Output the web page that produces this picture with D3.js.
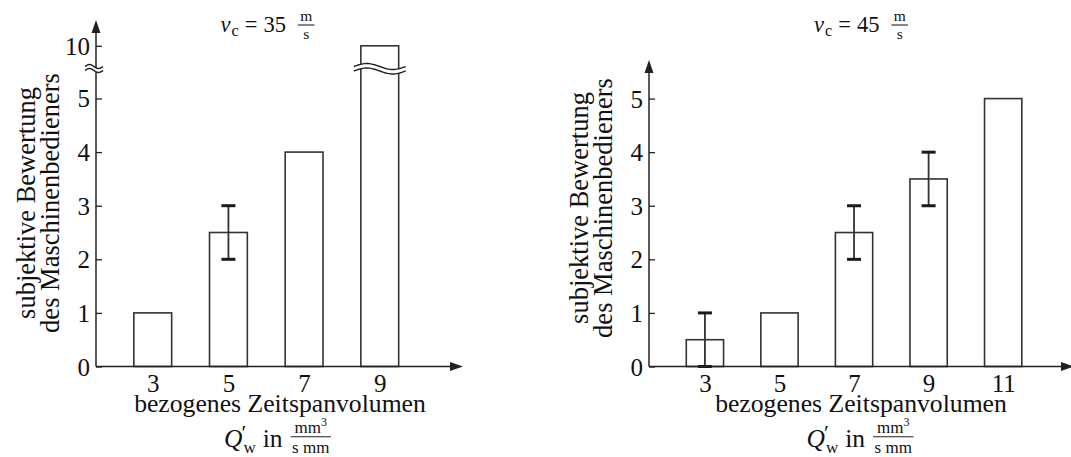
<!DOCTYPE html>
<html>
<head>
<meta charset="utf-8">
<script src="https://cdn.jsdelivr.net/npm/d3@7"></script>
<style>
  body { margin: 0; background: #fff; }
  svg { display: block; }
  svg text { font-family: "Liberation Serif", "DejaVu Serif", serif !important; fill: #111; }
</style>
</head>
<body>
<svg id="chart" width="1071" height="457" font-family="Liberation Serif, DejaVu Serif, serif"></svg>
<script>
// ---- data ----
const leftCategories = [3, 5, 7, 9];
const leftValues     = [1, 2.5, 4, 10];
const leftErrLow     = [null, 2, null, null];
const leftErrHigh    = [null, 3, null, null];
const leftTicks      = [0, 1, 2, 3, 4, 5, 10];

const rightCategories = [3, 5, 7, 9, 11];
const rightValues     = [0.5, 1, 2.5, 3.5, 5];
const rightErrLow     = [0, null, 2, 3, null];
const rightErrHigh    = [1, null, 3, 4, null];
const rightTicks      = [0, 1, 2, 3, 4, 5];

const speeds      = ["35", "45"];
const yTitleLines = ["subjektive Bewertung", "des Maschinenbedieners"];
const xTitle      = "bezogenes Zeitspanvolumen";

// ---- drawing ----
const SERIF = "Liberation Serif, DejaVu Serif, serif";
const svg = d3.select("#chart");
const INK = "#222";
const BAR_INK = "#333";

function txt(parent) {
  return parent.append("text").attr("font-family", SERIF).attr("fill", "#111");
}

// two stacked wavy strokes with a white gap between them (axis break symbol)
function breakMark(g, x1, x2, yc, amp, gap) {
  const n = 40;
  const pts = d3.range(n + 1).map(i => {
    const t = i / n;
    return [x1 + t * (x2 - x1), yc - amp * Math.sin(2 * Math.PI * t)];
  });
  const upper = pts;
  const lower = pts.map(p => [p[0], p[1] + gap]);
  const area = upper.concat(lower.slice().reverse());
  g.append("path").attr("d", d3.line()(area) + "Z").attr("fill", "#fff").attr("stroke", "none");
  [upper, lower].forEach(p => {
    g.append("path").attr("d", d3.line().curve(d3.curveBasis)(p))
      .attr("fill", "none").attr("stroke", INK).attr("stroke-width", 1.4);
  });
}

function drawSpeedTitle(cx, base, val) {
  const t = svg.append("g");
  const tt = txt(t).attr("y", base).attr("font-size", 22.5);
  tt.append("tspan").attr("font-style", "italic").text("v");
  tt.append("tspan").attr("font-size", 16).attr("dy", 4).attr("dx", 1).text("c");
  tt.append("tspan").attr("dy", -4).attr("dx", 6).text("=");
  tt.append("tspan").attr("dx", 6).text(val);
  const w = tt.node().getComputedTextLength() + 13;
  const fx = w + 12, fw = 16.5;
  txt(t).attr("x", fx + fw / 2).attr("y", base - 10.5).attr("font-size", 15.5)
    .attr("text-anchor", "middle").text("m");
  t.append("line").attr("x1", fx).attr("x2", fx + fw).attr("y1", base - 6.5).attr("y2", base - 6.5)
    .attr("stroke", INK).attr("stroke-width", 1.1);
  txt(t).attr("x", fx + fw / 2).attr("y", base + 7.5).attr("font-size", 15.5)
    .attr("text-anchor", "middle").text("s");
  t.attr("transform", `translate(${cx - (fx + fw) / 2},0)`);
}

function drawUnitLine(cx, base) {
  const t = svg.append("g");
  const q = txt(t).attr("y", base).attr("font-size", 25.5).attr("font-style", "italic").text("Q");
  const qw = q.node().getComputedTextLength();
  txt(t).attr("x", qw - 1).attr("y", base - 7).attr("font-size", 22).text("′");
  const sub = txt(t).attr("x", qw + 1).attr("y", base + 6).attr("font-size", 17).text("w");
  const sw = sub.node().getComputedTextLength();
  const inT = txt(t).attr("x", qw + sw + 8).attr("y", base).attr("font-size", 25.5).text("in");
  const iw = inT.node().getComputedTextLength();
  const fx = qw + sw + 8 + iw + 8;
  const num = txt(t).attr("y", base - 14).attr("font-size", 17);
  num.append("tspan").text("mm");
  num.append("tspan").attr("font-size", 12).attr("dy", -7).text("3");
  const den = txt(t).attr("y", base + 6.6).attr("font-size", 17).text("s mm");
  const nw = num.node().getComputedTextLength();
  const dw = den.node().getComputedTextLength();
  const fw = Math.max(nw, dw) + 3;
  num.attr("x", fx + (fw - nw) / 2);
  den.attr("x", fx + (fw - dw) / 2);
  t.append("line").attr("x1", fx).attr("x2", fx + fw).attr("y1", base - 10).attr("y2", base - 10)
    .attr("stroke", INK).attr("stroke-width", 1.1);
  t.attr("transform", `translate(${cx - (fx + fw) / 2},0)`);
}

function drawPanel(cfg) {
  const g = svg.append("g");
  const x = d3.scaleLinear().domain(cfg.xDomain).range([cfg.x0, cfg.x1]);
  const y = d3.scaleLinear().domain(cfg.yDomain).range(cfg.yRange);
  const bw = x(1) - x(0);
  const rows = cfg.categories.map((c, i) => ({ c, v: cfg.values[i], lo: cfg.errLow[i], hi: cfg.errHigh[i] }));

  // bars
  g.selectAll("rect.bar").data(rows).join("rect").attr("class", "bar")
    .attr("x", d => x(d.c - 0.5)).attr("width", bw)
    .attr("y", d => y(d.v)).attr("height", d => y(0) - y(d.v))
    .attr("fill", "#fff").attr("stroke", BAR_INK).attr("stroke-width", 1.6);

  // error bars
  const eb = rows.filter(d => d.lo !== null);
  g.selectAll("line.err").data(eb).join("line").attr("class", "err")
    .attr("x1", d => x(d.c)).attr("x2", d => x(d.c))
    .attr("y1", d => y(d.lo)).attr("y2", d => y(d.hi))
    .attr("stroke", BAR_INK).attr("stroke-width", 1.8);
  const caps = eb.flatMap(d => [{ c: d.c, v: d.lo }, { c: d.c, v: d.hi }]);
  g.selectAll("line.cap").data(caps).join("line").attr("class", "cap")
    .attr("x1", d => x(d.c) - 7).attr("x2", d => x(d.c) + 7)
    .attr("y1", d => y(d.v)).attr("y2", d => y(d.v))
    .attr("stroke", "#1a1a1a").attr("stroke-width", 3);

  // axes lines with arrowheads
  const y0 = y(0), yTop = cfg.yRange[cfg.yRange.length - 1];
  g.append("line").attr("x1", cfg.x0).attr("x2", cfg.x0).attr("y1", y0).attr("y2", yTop + 6)
    .attr("stroke", INK).attr("stroke-width", 1.5);
  g.append("line").attr("x1", cfg.x0).attr("x2", cfg.x1 - 6).attr("y1", y0).attr("y2", y0)
    .attr("stroke", INK).attr("stroke-width", 1.5);
  g.append("path").attr("d", `M${cfg.x0},${yTop} L${cfg.x0 - 4.5},${yTop + 13} L${cfg.x0 + 4.5},${yTop + 13}Z`).attr("fill", INK);
  g.append("path").attr("d", `M${cfg.x1},${y0} L${cfg.x1 - 13},${y0 - 4.5} L${cfg.x1 - 13},${y0 + 4.5}Z`).attr("fill", INK);

  // y ticks (pointing inward) and labels
  const ya = g.append("g").attr("transform", `translate(${cfg.x0},0)`)
    .call(d3.axisLeft(y).tickValues(cfg.ticks).tickSizeInner(-6).tickSizeOuter(0).tickPadding(6).tickFormat(d3.format("d")));
  ya.select(".domain").remove();
  ya.attr("font-family", SERIF).attr("font-size", 25);
  ya.selectAll(".tick line").attr("stroke", INK).attr("stroke-width", 1.3);
  ya.selectAll(".tick text").attr("font-family", SERIF).attr("font-size", 25).attr("fill", "#111").attr("dy", "0.34em");

  // x category labels
  const xa = g.append("g").attr("transform", `translate(0,${y0})`)
    .call(d3.axisBottom(x).tickValues(cfg.categories).tickSize(0).tickPadding(8).tickFormat(d3.format("d")));
  xa.select(".domain").remove();
  xa.attr("font-family", SERIF).attr("font-size", 25);
  xa.selectAll(".tick text").attr("font-family", SERIF).attr("font-size", 25).attr("fill", "#111");

  // axis break
  if (cfg.breakY) {
    breakMark(g, cfg.x0 - 11, cfg.x0 + 7, cfg.breakY, 2, 4);
    const bx = x(cfg.breakCat);
    breakMark(g, bx - bw / 2 - 7, bx + bw / 2 + 7, cfg.breakY, 3, 4.5);
  }

  // y axis title (two lines)
  yTitleLines.forEach((s, i) => {
    txt(svg).attr("transform", `translate(${cfg.yTitleX[i]},${cfg.yTitleCy}) rotate(-90)`)
      .attr("text-anchor", "middle").attr("font-size", 26.5).text(s);
  });

  // x axis title
  txt(svg).attr("x", cfg.xTitleCx).attr("y", 412).attr("text-anchor", "middle")
    .attr("font-size", 25.7).text(xTitle);
  drawUnitLine(cfg.unitCx, 446.7);
  drawSpeedTitle(cfg.titleCx, 31.5, cfg.speed);
}

drawPanel({
  categories: leftCategories, values: leftValues, errLow: leftErrLow, errHigh: leftErrHigh, ticks: leftTicks,
  xDomain: [1.5, 11.2], x0: 96, x1: 463,
  yDomain: [0, 5.55, 9.55, 10.5], yRange: [366.5, 69, 69, 20],
  breakY: 66.5, breakCat: 9,
  yTitleX: [35, 58.5], yTitleCy: 203,
  xTitleCx: 280, unitCx: 277.5, titleCx: 267.5, speed: speeds[0]
});

drawPanel({
  categories: rightCategories, values: rightValues, errLow: rightErrLow, errHigh: rightErrHigh, ticks: rightTicks,
  xDomain: [1.5, 12.9], x0: 649, x1: 1074,
  yDomain: [0, 5.72], yRange: [366.5, 60],
  breakY: null,
  yTitleX: [588, 611.5], yTitleCy: 208,
  xTitleCx: 861, unitCx: 860, titleCx: 861, speed: speeds[1]
});
</script>
</body>
</html>
